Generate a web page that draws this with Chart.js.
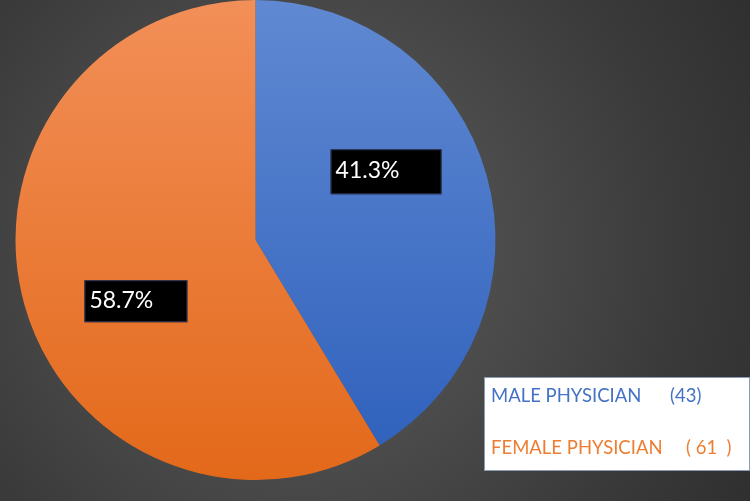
<!DOCTYPE html>
<html lang="en">
<head>
    <meta charset="UTF-8">
    <title>Physicians by gender</title>
    <style>
        html, body {
            margin: 0;
            padding: 0;
            width: 750px;
            height: 501px;
            overflow: hidden;
            background: radial-gradient(circle at 300px 250px, #5c5c5c 0px, #4a4a4a 220px, #3a3a3a 380px, #2c2c2c 560px);
        }
        #wrap {
            position: relative;
            width: 750px;
            height: 501px;
        }
    </style>
    <script src="https://cdn.jsdelivr.net/npm/chart.js"></script>
</head>
<body>
    <div id="wrap">
        <canvas id="pieChart" width="750" height="501"></canvas>
    </div>

    <script>
        // datos del gráfico
        const categories = ['MALE PHYSICIAN', 'FEMALE PHYSICIAN'];
        const counts = [43, 61];
        const countLabels = ['(43)', '( 61  )'];
        const percentLabels = ['41.3%', '58.7%'];

        const FONT = 'Lato, "Noto Sans", sans-serif';
        const gradStops = [['#6089d2', '#2d5fbb'], ['#f28f58', '#e3691a']];

        function sliceGradient(ctx) {
            const chart = ctx.chart;
            const area = chart.chartArea;
            const stops = gradStops[ctx.dataIndex] || gradStops[0];
            if (!area) return stops[0];
            const g = chart.ctx.createLinearGradient(0, area.top, 0, area.bottom);
            g.addColorStop(0, stops[0]);
            g.addColorStop(1, stops[1]);
            return g;
        }

        // etiquetas con caja negra
        const boxLabels = {
            id: 'boxLabels',
            afterDatasetsDraw(chart) {
                const ctx = chart.ctx;
                const meta = chart.getDatasetMeta(0);
                const offsets = [[15, -36], [-4, 29]];
                const sizes = [[111, 45], [103, 42]];
                meta.data.forEach((arc, i) => {
                    const p = arc.tooltipPosition();
                    const cx = p.x + offsets[i][0];
                    const cy = p.y + offsets[i][1];
                    const w = sizes[i][0], h = sizes[i][1];
                    ctx.save();
                    ctx.fillStyle = '#000';
                    ctx.fillRect(cx - w / 2, cy - h / 2, w, h);
                    ctx.strokeStyle = 'rgba(60,70,110,0.8)';
                    ctx.lineWidth = 1;
                    ctx.strokeRect(cx - w / 2 + 0.5, cy - h / 2 + 0.5, w - 1, h - 1);
                    ctx.fillStyle = '#fff';
                    ctx.font = '23px ' + FONT;
                    ctx.textBaseline = 'middle';
                    ctx.textAlign = 'left';
                    ctx.fillText(percentLabels[i], cx - w / 2 + 5, cy - 1);
                    ctx.restore();
                });
            }
        };

        // leyenda en caja blanca
        const boxLegend = {
            id: 'boxLegend',
            afterDraw(chart) {
                const ctx = chart.ctx;
                const colors = ['#4472c4', '#ed7d31'];
                const rowsY = [396, 448];
                const countX = [670, 686];
                ctx.save();
                ctx.fillStyle = '#fff';
                ctx.fillRect(484, 377, 266, 94);
                ctx.strokeStyle = '#8a9bb8';
                ctx.lineWidth = 1;
                ctx.strokeRect(484.5, 377.5, 265, 93);
                ctx.font = '18.5px ' + FONT;
                ctx.textBaseline = 'middle';
                ctx.textAlign = 'left';
                chart.data.labels.forEach((lab, i) => {
                    ctx.fillStyle = colors[i];
                    ctx.fillText(lab, 491, rowsY[i]);
                    ctx.fillText(countLabels[i], countX[i], rowsY[i]);
                });
                ctx.restore();
            }
        };

        const pieChart = new Chart(document.getElementById('pieChart'), {
            type: 'pie',
            data: {
                labels: categories,
                datasets: [{
                    data: counts,
                    backgroundColor: sliceGradient,
                    borderWidth: 0
                }]
            },
            options: {
                responsive: false,
                animation: false,
                layout: {
                    padding: { left: 15, top: 0, right: 254, bottom: 21 }
                },
                plugins: {
                    legend: { display: false },
                    tooltip: { enabled: false }
                }
            },
            plugins: [boxLabels, boxLegend]
        });
    </script>
</body>
</html>
